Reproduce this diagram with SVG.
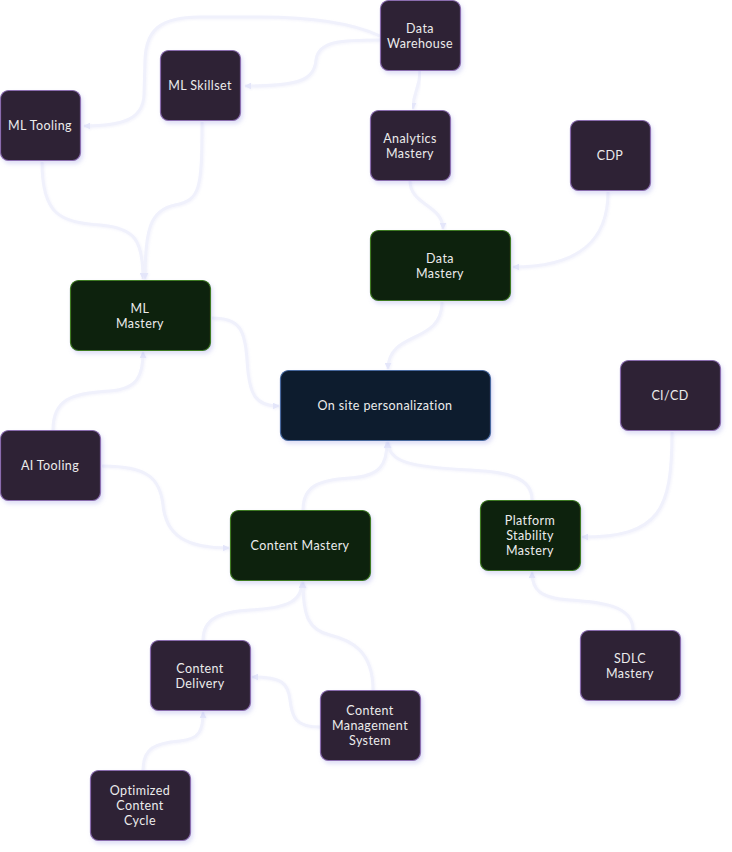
<svg xmlns="http://www.w3.org/2000/svg" width="732" height="852" viewBox="0 0 732 852">
<defs>
<marker id="arr" viewBox="0 0 10 10" refX="9" refY="5" markerWidth="7" markerHeight="7" markerUnits="userSpaceOnUse" orient="auto">
<path d="M0,0 L10,5 L0,10 z" fill="#e4e6fa"/>
</marker>
<filter id="sh" x="-20%" y="-20%" width="140%" height="150%">
<feDropShadow dx="2" dy="3" stdDeviation="2" flood-color="#8c8ce0" flood-opacity="0.28"/>
</filter>
<filter id="esh" x="-10%" y="-10%" width="120%" height="120%">
<feDropShadow dx="1" dy="1" stdDeviation="1" flood-color="#c8c8f0" flood-opacity="0.2"/>
</filter>
</defs>
<style>
.e{fill:none;stroke:#f0f1fc;stroke-width:3;marker-end:url(#arr);filter:url(#esh)}
.n rect{stroke-width:1.2;filter:url(#sh)}
.p rect{fill:#2e2236;stroke:#8a6cae}
.g rect{fill:#11200f;stroke:#3e7a22}
.b rect{fill:#0d1b2e;stroke:#46689e}
text{font-family:Lato,"Open Sans","Liberation Sans",sans-serif;font-size:12.5px;letter-spacing:0.4px;fill:#ececec;text-anchor:middle;dominant-baseline:central}
</style>
<rect width="732" height="852" fill="#ffffff"/>
<g id="connectors">
<path class="e" d="M380,36 C350,22 310,17 260,17 L200,17 C160,17 146,30 145,60 L144,95 C143,118 125,126 84,126"/>
<path class="e" d="M380,40 C345,40 318,40 316,60 C314,80 300,86 245,86"/>
<path class="e" d="M420,70 C420,90 413,90 413,109"/>
<path class="e" d="M410,181 C410,205 443,205 443,229"/>
<path class="e" d="M608,192 C608,240 580,267 513,267"/>
<path class="e" d="M42,162 C42,215 60,222 100,225 C135,228 143,240 143,279"/>
<path class="e" d="M202,122 C202,190 200,200 175,205 C150,210 145,230 145,279"/>
<path class="e" d="M442,302 C442,345 388,330 388,369"/>
<path class="e" d="M212,318 C240,318 245,330 247,360 C249,395 255,406 279,406"/>
<path class="e" d="M53,430 C53,400 70,393 110,391 C138,389 143,375 143,352"/>
<path class="e" d="M102,466 C150,466 160,480 163,505 C166,535 185,548 229,548"/>
<path class="e" d="M303,510 C303,485 320,480 350,478 C380,476 387,465 387,442"/>
<path class="e" d="M532,500 C532,478 510,472 470,470 C410,467 388,462 388,442"/>
<path class="e" d="M672,432 C672,510 660,537 582,537"/>
<path class="e" d="M633,630 C633,605 600,602 570,600 C540,598 532,590 532,572"/>
<path class="e" d="M203,640 C203,618 220,612 250,610 C290,608 302,600 302,582"/>
<path class="e" d="M373,690 C373,650 350,640 330,635 C308,630 303,615 303,582"/>
<path class="e" d="M320,727 C296,727 292,718 290,700 C288,683 282,677 252,677"/>
<path class="e" d="M143,770 C143,748 155,743 180,741 C200,739 203,730 203,712"/>
</g>
<g id="n-dw" class="n p"><rect x="380.5" y="0.5" width="80" height="70" rx="8"/><text x="420" y="28">Data</text><text x="420" y="43">Warehouse</text></g>
<g id="n-mlskill" class="n p"><rect x="160.5" y="50.5" width="80" height="70" rx="8"/><text x="200" y="85">ML Skillset</text></g>
<g id="n-mltool" class="n p"><rect x="0.5" y="90.5" width="80" height="70" rx="8"/><text x="40" y="125">ML Tooling</text></g>
<g id="n-analytics" class="n p"><rect x="370.5" y="110.5" width="80" height="70" rx="8"/><text x="410" y="138">Analytics</text><text x="410" y="153">Mastery</text></g>
<g id="n-cdp" class="n p"><rect x="570.5" y="120.5" width="80" height="70" rx="8"/><text x="610" y="155">CDP</text></g>
<g id="n-datamastery" class="n g"><rect x="370.5" y="230.5" width="140" height="70" rx="8"/><text x="440" y="258">Data</text><text x="440" y="273">Mastery</text></g>
<g id="n-mlmastery" class="n g"><rect x="70.5" y="280.5" width="140" height="70" rx="8"/><text x="140" y="308">ML</text><text x="140" y="323">Mastery</text></g>
<g id="n-onsite" class="n b"><rect x="280.5" y="370.5" width="210" height="70" rx="8"/><text x="385" y="405">On site personalization</text></g>
<g id="n-cicd" class="n p"><rect x="620.5" y="360.5" width="100" height="70" rx="8"/><text x="670" y="395">CI/CD</text></g>
<g id="n-aitool" class="n p"><rect x="0.5" y="430.5" width="100" height="70" rx="8"/><text x="50" y="465">AI Tooling</text></g>
<g id="n-content" class="n g"><rect x="230.5" y="510.5" width="140" height="70" rx="8"/><text x="300" y="545">Content Mastery</text></g>
<g id="n-platform" class="n g"><rect x="480.5" y="500.5" width="100" height="70" rx="8"/><text x="530" y="520">Platform</text><text x="530" y="535">Stability</text><text x="530" y="550">Mastery</text></g>
<g id="n-sdlc" class="n p"><rect x="580.5" y="630.5" width="100" height="70" rx="8"/><text x="630" y="658">SDLC</text><text x="630" y="673">Mastery</text></g>
<g id="n-delivery" class="n p"><rect x="150.5" y="640.5" width="100" height="70" rx="8"/><text x="200" y="668">Content</text><text x="200" y="683">Delivery</text></g>
<g id="n-cms" class="n p"><rect x="320.5" y="690.5" width="100" height="70" rx="8"/><text x="370" y="710">Content</text><text x="370" y="725">Management</text><text x="370" y="740">System</text></g>
<g id="n-occ" class="n p"><rect x="90.5" y="770.5" width="100" height="70" rx="8"/><text x="140" y="790">Optimized</text><text x="140" y="805">Content</text><text x="140" y="820">Cycle</text></g>
</svg>
